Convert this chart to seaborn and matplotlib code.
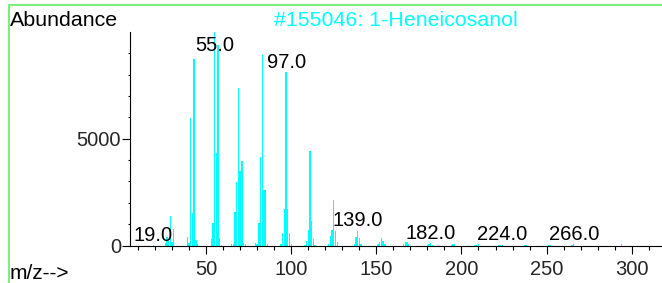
import matplotlib
matplotlib.use("Agg")
from matplotlib import pyplot as plt
from matplotlib.ticker import MultipleLocator
from matplotlib.lines import Line2D
import seaborn as sns

# spectrum: m/z and abundance
mz = [19,
      26, 27, 28, 29, 30, 31,
      39, 40, 41, 42, 43, 44, 45,
      53, 54, 55, 56, 57, 58, 59,
      65, 66, 67, 68, 69, 70, 71, 72, 73,
      79, 80, 81, 82, 83, 84, 85, 86,
      94, 95, 96, 97, 98, 99, 100,
      108, 109, 110, 111, 112, 113, 114,
      122, 123, 124, 125, 126, 127,
      137, 138, 139, 140, 141,
      151, 152, 153, 154, 155,
      166, 167, 168, 169,
      180, 181, 182, 183,
      194, 195, 196,
      208, 209, 210,
      222, 223, 224,
      237, 238,
      251, 252,
      265, 266,
      294]
abundance = [20,
             120, 420, 200, 1400, 150, 750,
             420, 100, 5950, 1500, 8750, 280, 60,
             300, 1040, 9990, 4340, 9380, 330, 40,
             60, 80, 1550, 2950, 7360, 3470, 3940, 140, 80,
             140, 50, 1060, 4140, 8900, 2620, 2620, 90,
             60, 580, 1720, 8130, 1720, 590, 50,
             40, 220, 740, 4440, 1150, 300, 40,
             60, 430, 720, 2150, 680, 180,
             60, 390, 700, 350, 80,
             80, 150, 330, 200, 70,
             80, 170, 150, 50,
             40, 80, 95, 30,
             30, 50, 55,
             20, 45, 50,
             20, 40, 45,
             35, 40,
             20, 30,
             40, 60,
             50]
labelled = [19, 55, 97, 139, 182, 224, 266]
title = "#155046: 1-Heneicosanol"

CYAN = "#00ffff"
W, H = 662, 283

sns.set_theme(style="ticks")
plt.rcParams["font.family"] = ["Liberation Sans", "DejaVu Sans"]

fig = plt.figure(figsize=(W / 100, H / 100), dpi=100)
ax = fig.add_axes([130 / W, (H - 245.5) / H, 1 - 130 / W, (245.5 - 32) / H])

sns.histplot(x=mz, weights=abundance, discrete=True, shrink=0.8,
             color=CYAN, alpha=1, linewidth=0, ax=ax)

ax.set_xlim(5.3, 317.8)
ax.set_ylim(0, 9995)
ax.set_xlabel("")
ax.set_ylabel("")

# axes look
for s in ["top", "right"]:
    ax.spines[s].set_visible(False)
for s in ["left", "bottom"]:
    ax.spines[s].set_color("black")
    ax.spines[s].set_linewidth(0.8)
ax.xaxis.set_major_locator(MultipleLocator(50))
ax.xaxis.set_minor_locator(MultipleLocator(10))
ax.yaxis.set_major_locator(MultipleLocator(5000))
ax.yaxis.set_minor_locator(MultipleLocator(1000))
ax.tick_params(axis="x", which="major", length=5.5, width=0.8,
               color="black", labelsize=14.5, pad=5)
ax.tick_params(axis="x", which="minor", length=3, width=0.8, color="black")
ax.tick_params(axis="y", which="major", length=5.5, width=0.8,
               color="black", labelsize=14.5, pad=1)
ax.tick_params(axis="y", which="minor", length=1.8, width=0.8, color="black")

# peak labels
cap = 8900
for m in labelled:
    v = abundance[mz.index(m)]
    ax.annotate(f"{m:.1f}", (m, min(v, cap)), xytext=(0, 3),
                textcoords="offset points", ha="center", va="baseline",
                fontsize=14.5, color="black", annotation_clip=False)

fig.text(10 / W, 1 - 26 / H, "Abundance", fontsize=15.4, color="black",
         ha="left", va="baseline")
fig.text(396 / W, 1 - 26 / H, title, fontsize=15.4, color=CYAN,
         ha="center", va="baseline")
fig.text(10 / W, 1 - 279 / H, "m/z-->", fontsize=15, color="black",
         ha="left", va="baseline")

# green frame of the window
green = "#7ded7d"
fig.add_artist(Line2D([9 / W, 1], [1 - 5 / H, 1 - 5 / H], color=green,
                      lw=1.5, transform=fig.transFigure))
fig.add_artist(Line2D([9 / W, 9 / W], [0, 1 - 5 / H], color=green,
                      lw=1.5, transform=fig.transFigure))

fig.savefig("out.png", dpi=100)
